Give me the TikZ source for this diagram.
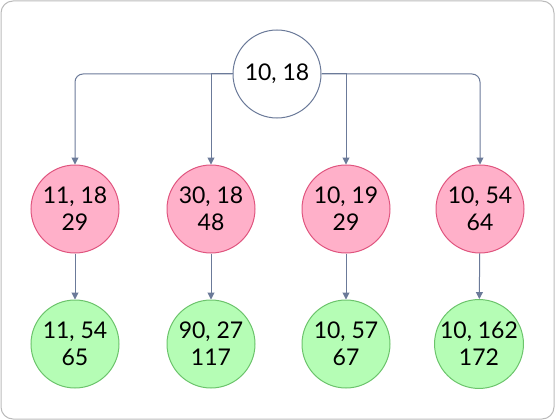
\documentclass[tikz,border=0pt]{standalone}
\usepackage{fontspec}
\setmainfont{Lato}
\usetikzlibrary{arrows.meta}
\definecolor{edgec}{HTML}{6B7A99}
\definecolor{pinkf}{HTML}{FFB0C9}
\definecolor{pinkd}{HTML}{E0557F}
\definecolor{greenf}{HTML}{B5FDB5}
\definecolor{greend}{HTML}{6CC46C}
\definecolor{framec}{HTML}{BBBBBB}
\tikzset{
  nd/.style={circle, minimum size=88pt, inner sep=0pt, line width=1pt, align=center, font=\fontsize{23}{27}\selectfont},
  rootnd/.style={nd, draw=edgec, fill=white},
  pinknd/.style={nd, draw=pinkd, fill=pinkf},
  greennd/.style={nd, draw=greend, fill=greenf},
  conn/.style={draw=edgec, line width=1pt, -{Triangle[length=7pt,width=7pt]}},
  roundconn/.style={conn, rounded corners=8pt}
}
\begin{document}
\begin{tikzpicture}[x=1pt,y=-1pt]
\useasboundingbox (0,0) rectangle (555,420);
\draw[framec, line width=1pt, rounded corners=12pt] (1,1) rectangle (554,419);
\node[rootnd] (r) at (277,74) {10, 18};
\node[pinknd] (p1) at (75,209) {11, 18\\29};
\node[pinknd] (p2) at (211,209) {30, 18\\48};
\node[pinknd] (p3) at (346,209) {10, 19\\29};
\node[pinknd] (p4) at (480,209) {10, 54\\64};
\node[greennd] (g1) at (75,344) {11, 54\\65};
\node[greennd] (g2) at (211,344) {90, 27\\117};
\node[greennd] (g3) at (346,344) {10, 57\\67};
\node[greennd] (g4) at (479,344) {10, 162\\172};
\draw[roundconn] (r.west) -| (p1.north);
\draw[conn] (r.west) -| (p2.north);
\draw[roundconn] (r.east) -| (p4.north);
\draw[conn] (r.east) -| (p3.north);
\draw[conn] (p1) -- (g1);
\draw[conn] (p2) -- (g2);
\draw[conn] (p3) -- (g3);
\draw[conn] (p4) -- (g4);
\end{tikzpicture}
\end{document}
